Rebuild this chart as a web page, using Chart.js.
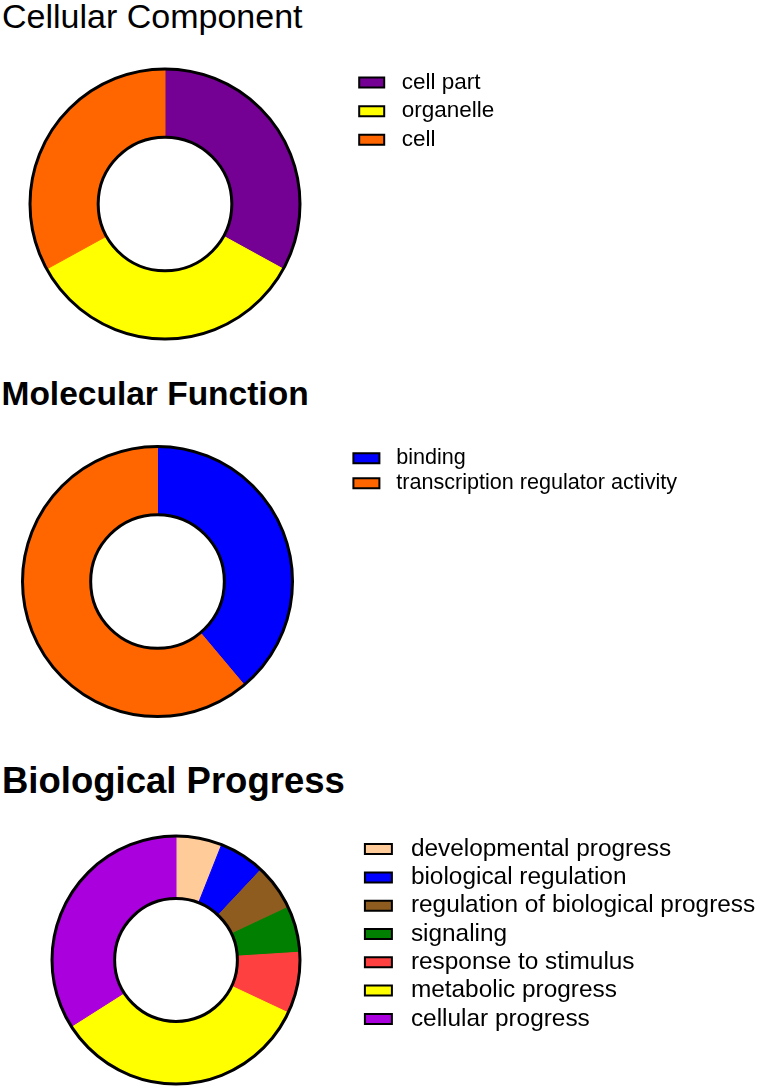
<!DOCTYPE html>
<html>
<head>
<meta charset="utf-8">
<script src="https://cdn.jsdelivr.net/npm/chart.js@4.4.1/dist/chart.umd.min.js"></script>
<style>
  html, body { margin: 0; padding: 0; background: #fff; }
  body { position: relative; width: 760px; height: 1092px; overflow: hidden; font-family: 'Liberation Sans', Arial, sans-serif; }
  .title { position: absolute; color: #000; white-space: nowrap; }
  canvas { position: absolute; }
</style>
</head>
<body>
<div class="title" style="left:2px; top:-1px; font-size:34px; line-height:34px;">Cellular Component</div>
<div class="title" style="left:1.5px; top:376.5px; font-size:33.5px; line-height:33.5px; font-weight:bold;">Molecular Function</div>
<div class="title" style="left:2px; top:763px; font-size:36.5px; line-height:36.5px; font-weight:bold;">Biological Progress</div>

<canvas id="ccChart" width="783" height="278" style="left:-23px; top:65px;"></canvas>
<canvas id="mfChart" width="795" height="275" style="left:-35px; top:444px;"></canvas>
<canvas id="bpChart" width="769" height="254" style="left:-9px; top:833px;"></canvas>

<script>
// Cellular Component
const ccLabels = ['cell part', 'organelle', 'cell'];
const ccValues = [33, 34, 33];
const ccColors = ['#740094', '#FFFF00', '#FF6600'];

// Molecular Function
const mfLabels = ['binding', 'transcription regulator activity'];
const mfValues = [7, 11];
const mfColors = ['#0000FF', '#FF6600'];

// Biological Progress
const bpLabels = ['developmental progress', 'biological regulation', 'regulation of biological progress',
    'signaling', 'response to stimulus', 'metabolic progress', 'cellular progress'];
const bpValues = [3, 3, 3, 3, 4, 17, 17];
const bpColors = ['#FFCC99', '#0000FF', '#8E5C1E', '#007F00', '#FF4040', '#FFFF00', '#AA00DD'];

const FONT = "'Liberation Sans', Arial, sans-serif";
Chart.defaults.font.family = FONT;
Chart.defaults.color = '#000';

// black outline on the outer and inner edge of the ring only (no lines between slices)
const ringOutline = {
    id: 'ringOutline',
    afterDatasetsDraw(chart) {
        const arc = chart.getDatasetMeta(0).data[0];
        if (!arc) return;
        const p = arc.getProps(['x', 'y', 'outerRadius', 'innerRadius'], true);
        const ctx = chart.ctx;
        ctx.save();
        ctx.lineWidth = 3;
        ctx.strokeStyle = '#000';
        ctx.beginPath();
        ctx.arc(p.x, p.y, p.outerRadius, 0, Math.PI * 2);
        ctx.stroke();
        ctx.beginPath();
        ctx.arc(p.x, p.y, p.innerRadius, 0, Math.PI * 2);
        ctx.stroke();
        ctx.restore();
    }
};

function makeDonut(id, labels, values, colors, o) {
    const canvas = document.getElementById(id);
    const chart = new Chart(canvas.getContext('2d'), {
        type: 'doughnut',
        data: {
            labels: labels,
            datasets: [{
                data: values,
                backgroundColor: colors,
                borderColor: colors,
                borderWidth: 1,
                radius: o.radius,
                cutout: '49.5%'
            }]
        },
        options: {
            responsive: false,
            animation: false,
            layout: { padding: { left: 0, top: 0, bottom: 0, right: 0 } },
            plugins: {
                tooltip: { enabled: false },
                title: { display: false },
                legend: {
                    position: 'right',
                    align: 'start',
                    maxWidth: 60, // narrow legend box, the labels just run past it
                    labels: {
                        boxWidth: o.boxWidth,
                        boxHeight: 10,
                        padding: o.padding,
                        color: '#000',
                        font: { family: FONT, size: o.fontSize },
                        generateLabels(chart) {
                            const items = Chart.overrides.doughnut.plugins.legend.labels.generateLabels(chart);
                            return items.map(it => Object.assign(it, {
                                text: ' ' + it.text,
                                strokeStyle: '#000',
                                lineWidth: 2
                            }));
                        }
                    }
                }
            }
        },
        plugins: [ringOutline]
    });
    // legend box is kept narrow, so draw it without clipping the long labels
    chart.legend.draw = function() {
        if (this.options.display) this._draw();
    };
    // move the legend to where the reference has it; the ring centres in what is left
    chart.options.layout.padding.right = canvas.width - o.legendLeft - chart.legend.width;
    chart.update();
    return chart;
}

makeDonut('ccChart', ccLabels, ccValues, ccColors,
    { radius: 135, legendLeft: 376, boxWidth: 25, padding: 6.2, fontSize: 22.5 });
makeDonut('mfChart', mfLabels, mfValues, mfColors,
    { radius: 135, legendLeft: 385, boxWidth: 26, padding: 3.4, fontSize: 21.6 });
makeDonut('bpChart', bpLabels, bpValues, bpColors,
    { radius: 124, legendLeft: 370, boxWidth: 27, padding: 3.9, fontSize: 24.4 });
</script>
</body>
</html>
